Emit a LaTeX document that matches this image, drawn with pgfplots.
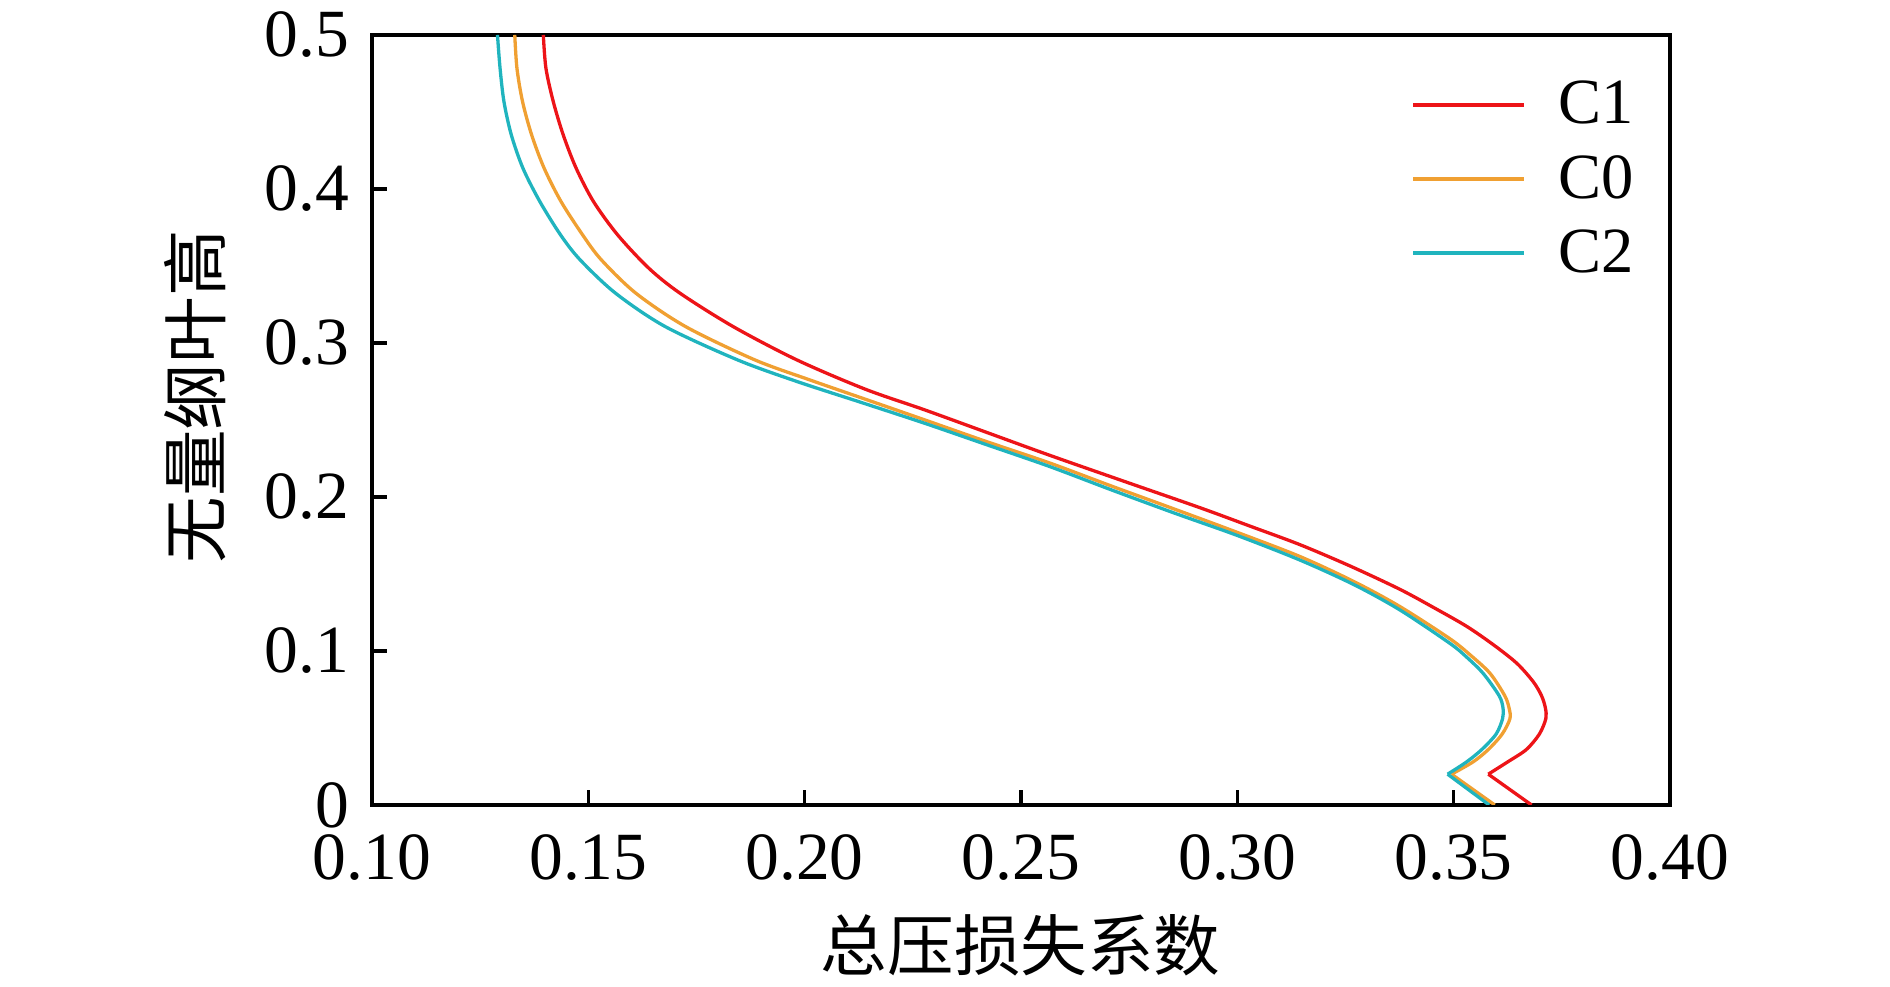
\documentclass[border=0pt]{standalone}
\usepackage{fontspec}
\setmainfont{Liberation Serif}
\newfontfamily\cjk{Noto Sans CJK SC}
\usepackage{pgfplots}
\pgfplotsset{compat=1.18}
\definecolor{cA}{RGB}{237,20,24}
\definecolor{cB}{RGB}{240,160,50}
\definecolor{cC}{RGB}{32,180,190}
\begin{document}
\begin{tikzpicture}
\useasboundingbox (-124pt,-60.67pt) rectangle (506pt,268.33pt);
\begin{axis}[
  scale only axis, width=432.67pt, height=256.67pt,
  xmin=0.1, xmax=0.4, ymin=0, ymax=0.5,
  xtick={0.10,0.15,0.20,0.25,0.30,0.35,0.40},
  ytick={0,0.1,0.2,0.3,0.4,0.5},
  /pgf/number format/assume math mode=true,
  x tick label style={/pgf/number format/.cd, fixed, fixed zerofill, precision=2, /tikz/.cd, yshift=-6.2pt},
  y tick label style={/pgf/number format/.cd, fixed, precision=1, /tikz/.cd, xshift=-4.2pt},
  tick align=inside, xtick pos=left, ytick pos=left,
  major tick length=5pt,
  every tick/.style={black, line width=1.2pt},
  axis line style={line width=1.3pt},
  tick label style={font=\fontsize{22.5}{26}\selectfont},
  label style={font=\cjk\fontsize{22.2}{26}\selectfont},
  xlabel={总压损失系数}, ylabel={无量纲叶高},
  x label style={at={(axis description cs:0.4998,-0.182)}, anchor=center},
  y label style={at={(axis description cs:-0.1364,0.53)}, anchor=center},
  legend style={draw=none, fill=none, at={(axis description cs:0.8005,0.948)}, anchor=north west,
    inner sep=0pt, outer sep=0pt, row sep=5pt, font=\fontsize{21.5}{25}\selectfont,
    /tikz/every odd column/.append style={column sep=8.7pt}},
  legend cell align=left,
  legend image code/.code={\draw[#1,line width=1.3pt] (0pt,0pt) -- (37pt,0pt);},
]
\addplot[cA, line width=1.1pt, smooth] table {
0.3580 0.020
0.3625 0.028
0.3668 0.036
0.3698 0.046
0.3713 0.056
0.3712 0.063
0.3703 0.071
0.3684 0.080
0.3646 0.092
0.3592 0.104
0.3530 0.116
0.3455 0.128
0.3376 0.140
0.3262 0.155
0.3145 0.169
0.3030 0.181
0.2914 0.193
0.2740 0.210
0.2567 0.227
0.2420 0.242
0.2278 0.2565
0.2140 0.270
0.1982 0.289
0.1835 0.3106
0.1712 0.3323
0.1640 0.3485
0.1568 0.3701
0.1512 0.3918
0.1472 0.4134
0.1442 0.4351
0.1419 0.4567
0.1402 0.4784
0.1396 0.500
};
\addlegendentry{C1}
\addplot[cB, line width=1.1pt, smooth] table {
0.3495 0.020
0.3545 0.028
0.3580 0.036
0.3612 0.046
0.3630 0.056
0.3628 0.063
0.3618 0.071
0.3584 0.0855
0.3540 0.097
0.3491 0.108
0.3376 0.1288
0.3270 0.145
0.3145 0.1613
0.3000 0.177
0.2856 0.192
0.2710 0.207
0.2567 0.222
0.2420 0.236
0.2278 0.250
0.2140 0.2635
0.2012 0.276
0.1885 0.289
0.1725 0.3106
0.1610 0.3323
0.1530 0.3540
0.1487 0.3701
0.1437 0.3918
0.1398 0.4134
0.1369 0.4351
0.1348 0.4567
0.1335 0.4784
0.1330 0.500
};
\addlegendentry{C0}
\addplot[cC, line width=1.1pt, smooth] table {
0.3486 0.020
0.3530 0.028
0.3565 0.036
0.3598 0.046
0.3613 0.056
0.3614 0.063
0.3605 0.071
0.3568 0.0855
0.3530 0.096
0.3491 0.105
0.3376 0.1266
0.3270 0.143
0.3145 0.159
0.3000 0.175
0.2856 0.1894
0.2710 0.2045
0.2567 0.2197
0.2420 0.234
0.2278 0.2478
0.2135 0.261
0.1983 0.2749
0.1845 0.289
0.1678 0.3106
0.1563 0.3323
0.1481 0.3540
0.1436 0.3701
0.1388 0.3918
0.1349 0.4134
0.1322 0.4351
0.1305 0.4567
0.1296 0.4784
0.1290 0.500
};
\addlegendentry{C2}
\addplot[cA, line width=1.1pt, sharp plot, forget plot] table {
0.3680 0.000
0.3580 0.020
};
\addplot[cB, line width=1.1pt, sharp plot, forget plot] table {
0.3595 0.000
0.3495 0.020
};
\addplot[cC, line width=1.1pt, sharp plot, forget plot] table {
0.3582 0.000
0.3486 0.020
};
\end{axis}
\end{tikzpicture}
\end{document}
